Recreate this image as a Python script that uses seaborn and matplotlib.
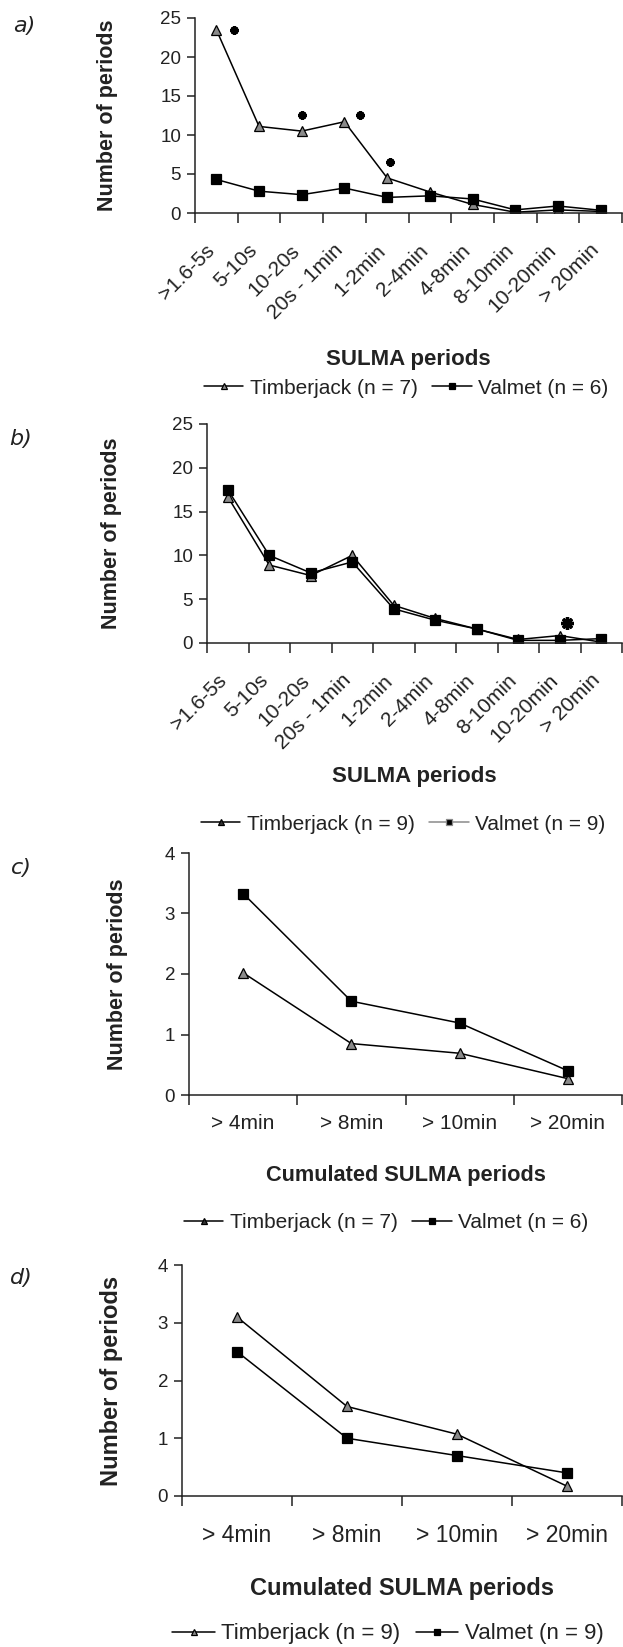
import numpy as np
import pandas as pd
import matplotlib
matplotlib.use('Agg')
import matplotlib.pyplot as plt
import seaborn as sns

sns.set_style('ticks')
plt.rcParams['font.family'] = ['Liberation Sans', 'DejaVu Sans']
plt.rcParams['text.color'] = '#222222'
plt.rcParams['axes.labelcolor'] = '#222222'
plt.rcParams['xtick.color'] = '#222222'
plt.rcParams['ytick.color'] = '#222222'

# data
cats_ab = ['>1.6-5s', '5-10s', '10-20s', '20s - 1min', '1-2min', '2-4min',
           '4-8min', '8-10min', '10-20min', '> 20min']
tj_a = [23.5, 11.1, 10.5, 11.7, 4.5, 2.7, 1.1, 0.1, 0.4, 0.2]
va_a = [4.3, 2.8, 2.35, 3.2, 2.0, 2.2, 1.8, 0.4, 0.9, 0.35]
tj_b = [16.7, 8.9, 7.7, 10.0, 4.3, 2.8, 1.6, 0.4, 0.85, 0.1]
va_b = [17.5, 10.0, 8.0, 9.25, 3.9, 2.6, 1.6, 0.3, 0.3, 0.5]

cats_cd = ['> 4min', '> 8min', '> 10min', '> 20min']
tj_c = [2.02, 0.85, 0.69, 0.27]
va_c = [3.33, 1.55, 1.19, 0.40]
tj_d = [3.10, 1.55, 1.07, 0.17]
va_d = [2.50, 1.00, 0.70, 0.40]

# significance marks (category position, value)
star_a_x = [0.42, 2.0, 3.37, 4.07]
star_a_y = [23.5, 12.6, 12.6, 6.5]
star_b_x = [8.17]
star_b_y = [2.3]

W, H = 623, 1647
fig = plt.figure(figsize=(W / 100, H / 100), dpi=100)


def px_axes(left, top, bottom, right=622):
    return fig.add_axes([left / W, 1 - bottom / H, (right - left) / W, (bottom - top) / H])


def draw(ax, cats, tj, va, ymax, step, xtick_fs, ytick_fs, rot, xpad, n_tj, n_va,
         ylab_px, leg_x, leg_y, lab_fs, leg_fs, letter, letter_xy):
    sns.lineplot(x=cats, y=tj, ax=ax, sort=False, color='black', lw=1.1,
                 marker='^', markersize=7.5, markerfacecolor='#8a8a8a',
                 markeredgecolor='black', markeredgewidth=0.9,
                 label=f'Timberjack (n = {n_tj})')
    sns.lineplot(x=cats, y=va, ax=ax, sort=False, color='black', lw=1.1,
                 marker='s', markersize=6.5, markerfacecolor='black',
                 markeredgecolor='black', markeredgewidth=0.9,
                 label=f'Valmet (n = {n_va})')
    n = len(cats)
    ax.set_xlim(-0.5, n - 0.5)
    ax.set_ylim(0, ymax)
    ax.set_yticks(np.arange(0, ymax + 0.01, step))
    # labels sit slightly left of the category centre when rotated (invisible major ticks)
    shift = 0.27 if rot else 0.0
    ax.set_xticks(np.arange(n) - shift)
    ax.set_xticks(np.arange(-0.5, n, 1.0), minor=True)
    ax.tick_params(axis='x', which='major', length=0, labelsize=xtick_fs, pad=xpad)
    ax.tick_params(axis='x', which='minor', length=7, width=1.1, direction='out')
    ax.tick_params(axis='y', length=6, width=1.1, direction='out', labelsize=ytick_fs, pad=4)
    if rot:
        ax.set_xticklabels(cats, rotation=45, ha='right', va='top', rotation_mode='anchor')
    else:
        ax.set_xticklabels(cats)
    for s in ['top', 'right']:
        ax.spines[s].set_visible(False)
    for s in ['left', 'bottom']:
        ax.spines[s].set_linewidth(1.1)
        ax.spines[s].set_color('#222222')
    pos = ax.get_position()
    left_px = pos.x0 * W
    width_px = pos.width * W
    ax.set_ylabel('Number of periods', fontsize=lab_fs, fontweight='bold')
    ax.yaxis.set_label_coords((ylab_px - left_px) / width_px, 0.5)
    leg = ax.legend(loc='center', bbox_to_anchor=(leg_x / W, 1 - leg_y / H),
                    bbox_transform=fig.transFigure, ncol=2, frameon=False,
                    fontsize=leg_fs, markerscale=0.65, handlelength=1.9,
                    handletextpad=0.3, columnspacing=0.7)
    fig.text(letter_xy[0] / W, 1 - letter_xy[1] / H, letter, fontsize=16,
             style='italic', family=['DejaVu Sans'], ha='center', va='center', color='#222222')
    return leg


def xlabel_at(ax, text, fs, y_px, top, bottom):
    ax.set_xlabel(text, fontsize=fs, fontweight='bold')
    ax.xaxis.set_label_coords(0.5, 1 - (y_px - top) / (bottom - top))
    ax.xaxis.label.set_va('center')


# panel a
ax_a = px_axes(195, 18, 213)
draw(ax_a, cats_ab, tj_a, va_a, 25, 5, 15, 13.5, True, 20, 7, 6, 118, 406, 388, 15.5, 15,
     'a)', (24, 26))
xlabel_at(ax_a, 'SULMA periods', 16, 360, 18, 213)
ax_a.plot(star_a_x, star_a_y, ls='none', marker=(8, 2, 0), markersize=6, mew=1.8, color='black')

# panel b
ax_b = px_axes(207, 424, 643)
leg_b = draw(ax_b, cats_ab, tj_b, va_b, 25, 5, 15, 13.5, True, 20, 9, 9, 122, 403, 824, 15.5, 15,
             'b)', (21, 439))
xlabel_at(ax_b, 'SULMA periods', 16, 777, 424, 643)
ax_b.plot(star_b_x, star_b_y, ls='none', marker=(8, 2, 0), markersize=9, mew=2.4, color='black')
hb = leg_b.legend_handles
hb[0].set_markerfacecolor('#333333')
hb[1].set_color('#8a8a8a')
hb[1].set_markerfacecolor('black')
hb[1].set_markeredgecolor('#8a8a8a')

# panel c
ax_c = px_axes(189, 853, 1095)
leg_c = draw(ax_c, cats_cd, tj_c, va_c, 4, 1, 15, 13.5, False, 14, 7, 6, 128, 386, 1223, 15.5, 15,
             'c)', (21, 868))
xlabel_at(ax_c, 'Cumulated SULMA periods', 15.7, 1175, 853, 1095)
leg_c.legend_handles[0].set_markerfacecolor('#333333')

# panel d
ax_d = px_axes(182, 1265, 1496)
draw(ax_d, cats_cd, tj_d, va_d, 4, 1, 16.5, 13.5, False, 20, 9, 9, 123, 388, 1634, 17, 16,
     'd)', (21, 1278))
xlabel_at(ax_d, 'Cumulated SULMA periods', 17, 1588, 1265, 1496)

fig.savefig('out.png', dpi=100)
